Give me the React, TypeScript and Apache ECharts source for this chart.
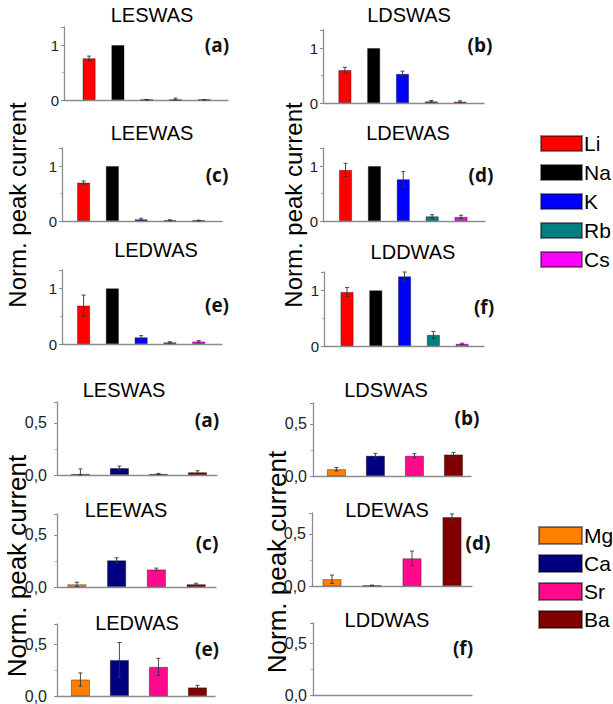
import React, { useEffect, useRef } from "react";
import * as echarts from "echarts";

// ---------- data ----------
const alkaliIons = ["Li", "Na", "K", "Rb", "Cs"];
const earthIons = ["Mg", "Ca", "Sr", "Ba"];

const alkaliLESWAS = [0.76, 1.0, 0.006, 0.005, 0.005];
const alkaliLESWASErr = [0.04, 0, 0.004, 0.03, 0.004];
const alkaliLDSWAS = [0.6, 1.0, 0.53, 0.03, 0.025];
const alkaliLDSWASErr = [0.05, 0, 0.05, 0.015, 0.015];
const alkaliLEEWAS = [0.7, 1.0, 0.03, 0.015, 0.01];
const alkaliLEEWASErr = [0.03, 0, 0.02, 0.008, 0.005];
const alkaliLDEWAS = [0.93, 1.0, 0.76, 0.085, 0.075];
const alkaliLDEWASErr = [0.12, 0, 0.14, 0.03, 0.03];
const alkaliLEDWAS = [0.69, 1.0, 0.12, 0.03, 0.045];
const alkaliLEDWASErr = [0.19, 0, 0.03, 0.01, 0.015];
const alkaliLDDWAS = [0.97, 1.0, 1.25, 0.2, 0.04];
const alkaliLDDWASErr = [0.08, 0, 0.08, 0.06, 0.01];

const earthLESWAS = [0.01, 0.065, 0.01, 0.026];
const earthLESWASErr = [0.048, 0.02, 0.005, 0.015];
const earthLDSWAS = [0.065, 0.194, 0.194, 0.206];
const earthLDSWASErr = [0.016, 0.023, 0.02, 0.02];
const earthLEEWAS = [0.026, 0.255, 0.168, 0.026];
const earthLEEWASErr = [0.02, 0.025, 0.013, 0.01];
const earthLDEWAS = [0.065, 0.005, 0.265, 0.66];
const earthLDEWASErr = [0.04, 0.003, 0.07, 0.03];
const earthLEDWAS = [0.16, 0.35, 0.283, 0.083];
const earthLEDWASErr = [0.064, 0.17, 0.083, 0.02];
const earthLDDWAS: number[] = [];
const earthLDDWASErr: number[] = [];

const panelTitles = ["LESWAS", "LDSWAS", "LEEWAS", "LDEWAS", "LEDWAS", "LDDWAS"];
const panelLetters = ["(a)", "(b)", "(c)", "(d)", "(e)", "(f)"];
const yTitle = "Norm. peak current";

// ---------- styles ----------
const alkaliColors = ["#ff0000", "#000000", "#0000ff", "#008080", "#ff00ff"];
const earthColors = ["#ff8000", "#000080", "#ff0a8c", "#800000"];
const FONT = "'Liberation Sans', Arial, sans-serif";

type Panel = {
  group: number;
  idx: number;
  values: number[];
  errors: number[];
  grid: { left: number; top: number; width: number; height: number };
  xMin: number;
  xMax: number;
  titlePos: [number, number];
  letterPos: [number, number];
  labelMargin: number;
};

const panels: Panel[] = [
  { group: 0, idx: 0, values: alkaliLESWAS, errors: alkaliLESWASErr, grid: { left: 64, top: 27, width: 164, height: 73 }, xMin: 0.13, xMax: 5.82, titlePos: [152, 15], letterPos: [217, 45], labelMargin: 5 },
  { group: 0, idx: 1, values: alkaliLDSWAS, errors: alkaliLDSWASErr, grid: { left: 323, top: 30, width: 161, height: 73 }, xMin: 0.24, xMax: 5.83, titlePos: [409, 15], letterPos: [480, 45], labelMargin: 5 },
  { group: 0, idx: 2, values: alkaliLEEWAS, errors: alkaliLEEWASErr, grid: { left: 62, top: 148, width: 160, height: 73 }, xMin: 0.25, xMax: 5.81, titlePos: [152, 133], letterPos: [217, 175], labelMargin: 5 },
  { group: 0, idx: 3, values: alkaliLDEWAS, errors: alkaliLDEWASErr, grid: { left: 323, top: 148, width: 162, height: 73 }, xMin: 0.22, xMax: 5.83, titlePos: [408, 133], letterPos: [481, 175], labelMargin: 5 },
  { group: 0, idx: 4, values: alkaliLEDWAS, errors: alkaliLEDWASErr, grid: { left: 62, top: 270, width: 160, height: 74 }, xMin: 0.25, xMax: 5.81, titlePos: [156, 250], letterPos: [217, 305], labelMargin: 5 },
  { group: 0, idx: 5, values: alkaliLDDWAS, errors: alkaliLDDWASErr, grid: { left: 324, top: 272, width: 160, height: 74 }, xMin: 0.2, xMax: 5.76, titlePos: [413, 252], letterPos: [484, 307], labelMargin: 5 },
  { group: 1, idx: 0, values: earthLESWAS, errors: earthLESWASErr, grid: { left: 57, top: 402, width: 160, height: 73 }, xMin: 0.4, xMax: 4.5, titlePos: [124, 390], letterPos: [207, 420], labelMargin: 10 },
  { group: 1, idx: 1, values: earthLDSWAS, errors: earthLDSWASErr, grid: { left: 313, top: 403, width: 158, height: 73 }, xMin: 0.4, xMax: 4.45, titlePos: [386, 390], letterPos: [467, 418], labelMargin: 6 },
  { group: 1, idx: 2, values: earthLEEWAS, errors: earthLEEWASErr, grid: { left: 57, top: 514, width: 159, height: 73 }, xMin: 0.5, xMax: 4.5, titlePos: [126, 510], letterPos: [207, 543], labelMargin: 10 },
  { group: 1, idx: 3, values: earthLDEWAS, errors: earthLDEWASErr, grid: { left: 312, top: 513, width: 160, height: 73 }, xMin: 0.5, xMax: 4.5, titlePos: [387, 510], letterPos: [478, 543], labelMargin: 6 },
  { group: 1, idx: 4, values: earthLEDWAS, errors: earthLEDWASErr, grid: { left: 57, top: 624, width: 158, height: 73 }, xMin: 0.4, xMax: 4.45, titlePos: [137, 623], letterPos: [207, 649], labelMargin: 10 },
  { group: 1, idx: 5, values: earthLDDWAS, errors: earthLDDWASErr, grid: { left: 313, top: 623, width: 159, height: 72 }, xMin: 0.5, xMax: 4.5, titlePos: [387, 620], letterPos: [463, 648], labelMargin: 6 },
];

function buildOption() {
  const grid: any[] = [];
  const xAxis: any[] = [];
  const yAxis: any[] = [];
  const series: any[] = [];
  const graphic: any[] = [];

  panels.forEach((p, k) => {
    const isAlk = p.group === 0;
    const ions = isAlk ? alkaliIons : earthIons;
    const colors = isAlk ? alkaliColors : earthColors;
    const yMax = isAlk ? 1.33 : 0.7;
    const interval = isAlk ? 1 : 0.5;
    grid.push({ ...p.grid });
    xAxis.push({
      type: "value",
      gridIndex: k,
      min: p.xMin,
      max: p.xMax,
      axisLine: { show: true, onZero: false, lineStyle: { color: "#8c8c8c", width: 1.3 } },
      axisTick: { show: false },
      axisLabel: { show: false },
      splitLine: { show: false },
    });
    yAxis.push({
      type: "value",
      gridIndex: k,
      min: 0,
      max: yMax,
      interval,
      axisLine: { show: true, lineStyle: { color: "#8c8c8c", width: 1.3 } },
      axisTick: { show: true, length: 3, lineStyle: { color: "#8c8c8c" } },
      minorTick: { show: true, splitNumber: 2, length: 2, lineStyle: { color: "#aaa" } },
      splitLine: { show: false },
      axisLabel: {
        showMaxLabel: false,
        margin: p.labelMargin,
        fontFamily: FONT,
        fontSize: isAlk ? 15 : 16,
        color: "#222",
        formatter: (v: number) => {
          if (isAlk) return v === 0 || v === 1 ? String(v) : "";
          return v === 0 || v === 0.5 ? v.toFixed(1).replace(".", ",") : "";
        },
      },
    });

    p.values.forEach((v, i) => {
      series.push({
        type: "bar",
        name: ions[i],
        xAxisIndex: k,
        yAxisIndex: k,
        barWidth: isAlk ? 13 : 19,
        barGap: "-100%",
        data: [[i + 1, v]],
        itemStyle: { color: colors[i], borderColor: "rgba(0,0,0,0.45)", borderWidth: 0.8 },
      });
    });

    if (p.values.length) {
      series.push({
        type: "custom",
        xAxisIndex: k,
        yAxisIndex: k,
        z: 5,
        data: p.values.map((v, i) => [i + 1, v, p.errors[i]]),
        renderItem: (params: any, api: any) => {
          const x = api.value(0);
          const y = api.value(1);
          const e = api.value(2);
          if (!e) return null;
          const top = api.coord([x, y + e]);
          const bot = api.coord([x, Math.max(0, y - e)]);
          const cap = 2;
          const style = { stroke: "#333", lineWidth: 0.9 };
          return {
            type: "group",
            children: [
              { type: "line", shape: { x1: top[0], y1: top[1], x2: bot[0], y2: bot[1] }, style },
              { type: "line", shape: { x1: top[0] - cap, y1: top[1], x2: top[0] + cap, y2: top[1] }, style },
              { type: "line", shape: { x1: bot[0] - cap, y1: bot[1], x2: bot[0] + cap, y2: bot[1] }, style },
            ],
          };
        },
      });
    }

    graphic.push({
      type: "text",
      x: p.titlePos[0],
      y: p.titlePos[1],
      style: { text: panelTitles[p.idx], fontFamily: FONT, fontSize: 20, fill: "#000", align: "center", verticalAlign: "middle" },
    });
    graphic.push({
      type: "text",
      x: p.letterPos[0],
      y: p.letterPos[1],
      style: { text: panelLetters[p.idx], fontFamily: "'Open Sans', sans-serif", fontWeight: "bold", fontSize: 19, fill: "#111", align: "center", verticalAlign: "middle" },
    });
  });

  const yTitles: [number, number, number][] = [
    [17, 205, 24],
    [293, 205, 24],
    [17, 566, 26],
    [277, 562, 26],
  ];
  yTitles.forEach(([x, y, fs]) => {
    graphic.push({
      type: "text",
      x,
      y,
      rotation: Math.PI / 2,
      style: { text: yTitle, fontFamily: FONT, fontSize: fs, fill: "#000", align: "center", verticalAlign: "middle" },
    });
  });

  return {
    animation: false,
    backgroundColor: "#fff",
    grid,
    xAxis,
    yAxis,
    series,
    graphic,
    legend: [
      {
        data: alkaliIons,
        orient: "vertical",
        left: 540,
        top: 133,
        padding: 0,
        icon: "rect",
        itemWidth: 41,
        itemHeight: 15,
        itemGap: 8,
        selectedMode: false,
        textStyle: { fontFamily: FONT, fontSize: 21, color: "#000", lineHeight: 15, padding: [0, 0, 0, -3] },
      },
      {
        data: earthIons,
        orient: "vertical",
        left: 538,
        top: 525,
        padding: 0,
        icon: "rect",
        itemWidth: 43,
        itemHeight: 17,
        itemGap: 7,
        selectedMode: false,
        textStyle: { fontFamily: FONT, fontSize: 21, color: "#000", lineHeight: 17, padding: [0, 0, 0, -3] },
      },
    ],
  };
}

export default function App() {
  const ref = useRef<HTMLDivElement>(null);
  useEffect(() => {
    if (!ref.current) return;
    const chart = echarts.init(ref.current, undefined, { renderer: "svg" });
    chart.setOption(buildOption() as any);
    return () => chart.dispose();
  }, []);
  return <div ref={ref} style={{ position: "fixed", left: 0, top: 0, width: 613, height: 704 }} />;
}
